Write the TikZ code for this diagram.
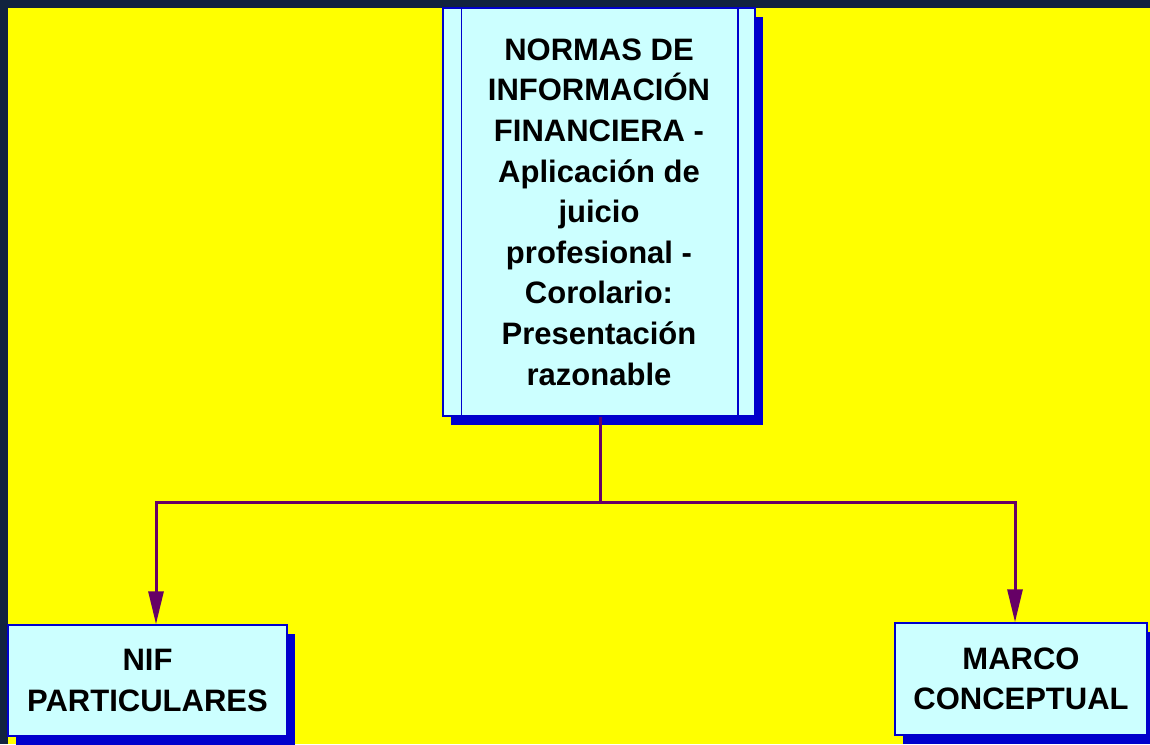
\documentclass[tikz,border=0pt]{standalone}
\usepackage{fontspec}
\setmainfont{Liberation Sans}
\usetikzlibrary{arrows.meta,shadows}
\definecolor{bgyellow}{HTML}{FFFF00}
\definecolor{framedark}{HTML}{12233F}
\definecolor{boxfill}{HTML}{CCFFFF}
\definecolor{boxline}{HTML}{0000CC}
\definecolor{shadowblue}{HTML}{0000CC}
\definecolor{conn}{HTML}{660066}
\begin{document}
\begin{tikzpicture}[x=1pt,y=-1pt,
  box/.style={draw=boxline, line width=1.5pt, fill=boxfill, align=center,
    font=\fontsize{31}{40.6}\selectfont\bfseries, inner sep=0pt,
    drop shadow={shadow xshift=8pt, shadow yshift=-9pt, fill=shadowblue, opacity=1}},
  conline/.style={draw=conn, line width=3pt},
  arr/.style={conline, -{Triangle[length=33pt,width=15pt]}}]
\useasboundingbox (0,0) rectangle (1150,744);
\fill[bgyellow] (0,0) rectangle (1150,744);
\fill[framedark] (0,0) rectangle (1150,7.5);
\fill[framedark] (0,0) rectangle (8,744);
\node[box, minimum width=312pt, minimum height=408pt] (top) at (599,212)
  {NORMAS DE\\INFORMACIÓN\\FINANCIERA -\\Aplicación de\\juicio\\profesional -\\Corolario:\\Presentación\\razonable};
\draw[boxline, line width=1.5pt] ([xshift=19pt]top.north west) -- ([xshift=19pt]top.south west);
\draw[boxline, line width=1.5pt] ([xshift=-18pt]top.north east) -- ([xshift=-18pt]top.south east);
\node[box, minimum width=279pt, minimum height=111pt] (nif) at (147.5,680.5) {NIF\\PARTICULARES};
\node[box, minimum width=252pt, minimum height=112pt] (marco) at (1021,679) {MARCO\\CONCEPTUAL};
\coordinate (j) at (600,502);
\draw[conline] (top.south -| j) -- (j);
\draw[arr] (j) -| ([xshift=8.5pt]nif.north);
\draw[arr] (j) -| ([xshift=-6pt]marco.north);
\end{tikzpicture}
\end{document}
